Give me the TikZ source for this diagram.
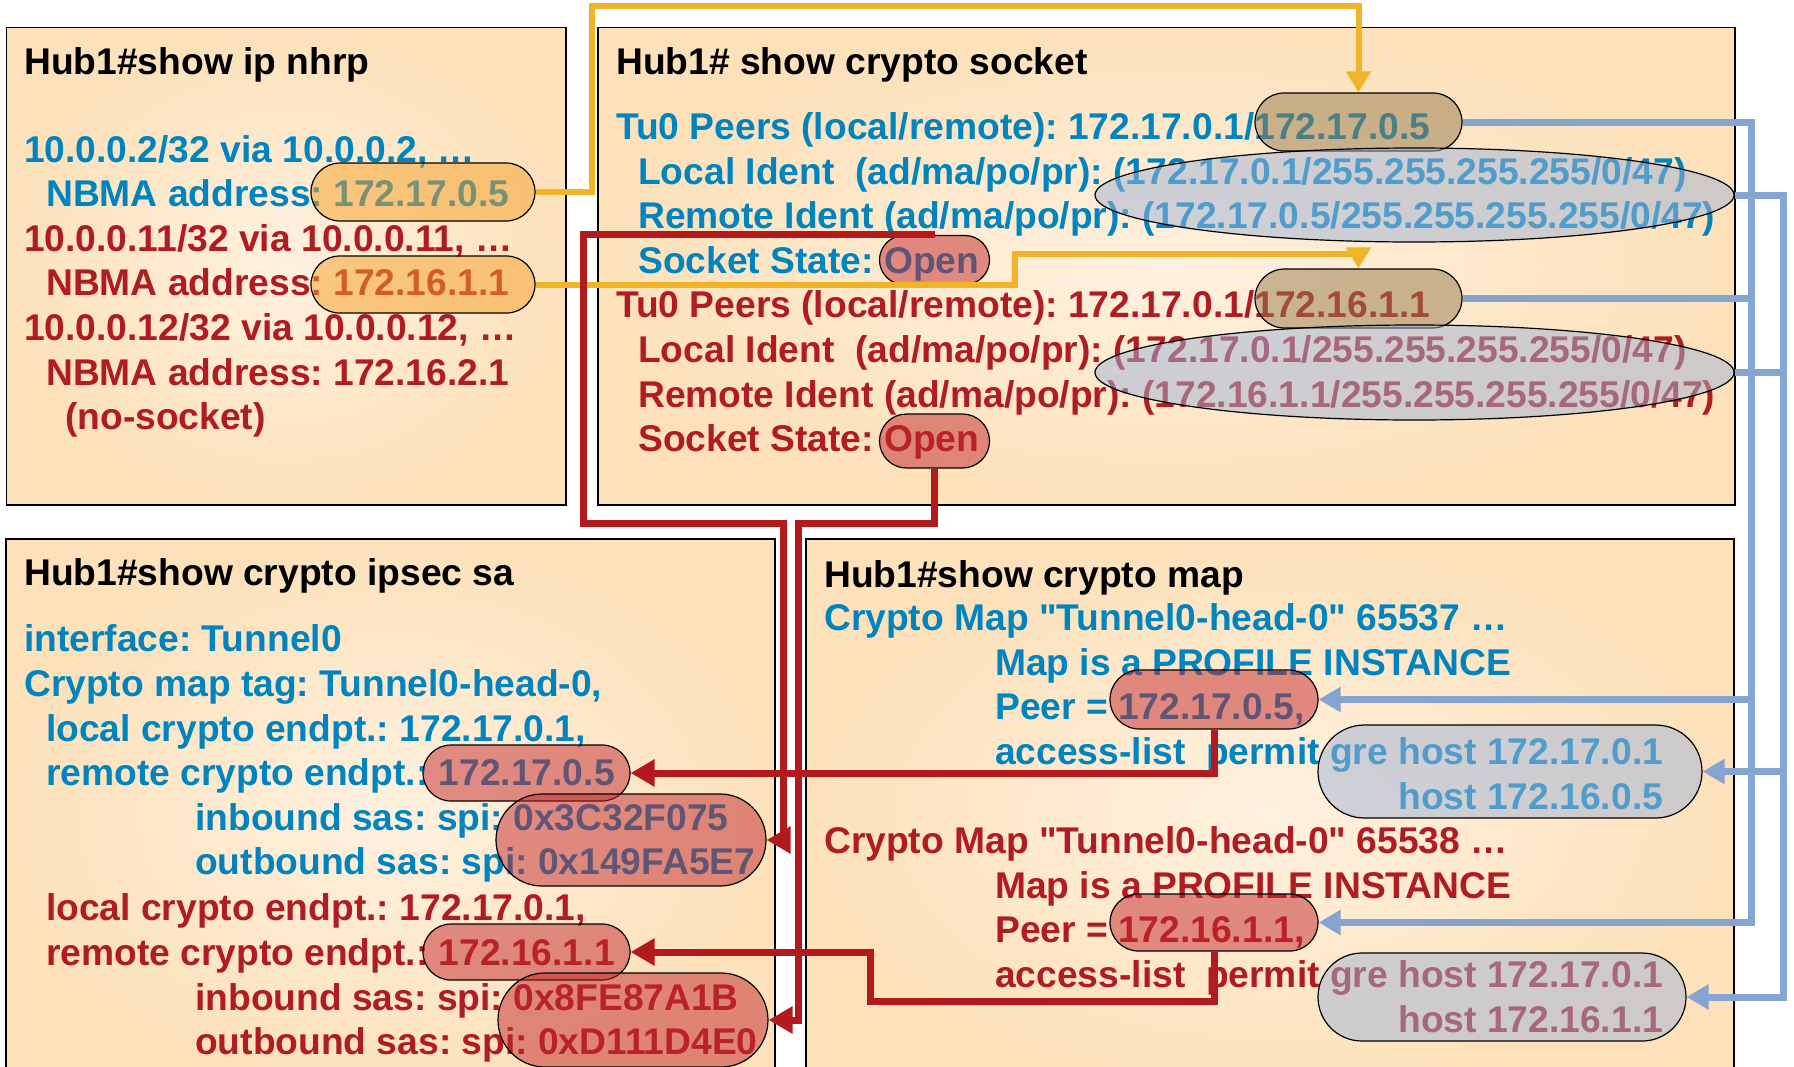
\documentclass[tikz,border=0pt]{standalone}
\usepackage{fontspec}
\setmainfont{Liberation Sans}
\newfontfamily\qfont{Liberation Sans}
\usetikzlibrary{arrows.meta,shapes.misc,shapes.geometric}
\frenchspacing

\definecolor{boxin}{RGB}{255,241,224}
\definecolor{boxout}{RGB}{252,225,186}
\definecolor{cblue}{RGB}{0,132,192}
\definecolor{cred}{RGB}{176,28,34}
\definecolor{lyellow}{RGB}{240,180,40}
\definecolor{lred}{RGB}{178,26,30}
\definecolor{lblue}{RGB}{134,164,210}
\definecolor{hlorange}{RGB}{245,160,40}
\definecolor{hltan}{RGB}{150,122,75}
\definecolor{hlgray}{RGB}{160,180,215}
\definecolor{hlred}{RGB}{195,40,45}
\newcommand{\dq}{{\qfont\symbol{34}}}

\begin{document}
\begin{tikzpicture}[x=1pt,y=-1pt,
    every node/.style={font=\fontsize{37.2}{44}\selectfont\bfseries, inner sep=0pt},
    txt/.style={anchor=base west},
    bl/.style={txt,text=cblue},
    rd/.style={txt,text=cred},
    panel/.style={draw=black,line width=1.5pt,inner color=boxin,outer color=boxout},
    pill/.style={rounded rectangle,draw=black,line width=1.2pt,fill opacity=0.5},
    oval/.style={ellipse,draw=black,line width=1.2pt,fill opacity=0.5},
    yline/.style={lyellow,line width=6pt,-{Triangle[length=21pt,width=24pt]}},
    rline/.style={lred,line width=7pt,-{Triangle[length=24pt,width=26pt]}},
    bline/.style={lblue,line width=7pt,-{Triangle[length=22pt,width=24pt]}}]
    \useasboundingbox (0,0) rectangle (1794,1066);

    % 四个面板
    \draw[panel] (6.5,27.5) rectangle (566,505);
    \draw[panel] (598,27.5) rectangle (1735,505);
    \draw[panel] (6,539) rectangle (775,1090);
    \draw[panel] (806,539) rectangle (1734,1090);

    % show ip nhrp
    \node[txt] (nhrpT) at (24,74.5) {Hub1\#show ip nhrp};
    \node[bl] (nhrp1) at (24,162) {10.0.0.2/32 via 10.0.0.2, …};
    \node[bl] (nhrp2) at (46,206.6) {NBMA address: 172.17.0.5};
    \node[rd] (nhrp3) at (24,251.2) {10.0.0.11/32 via 10.0.0.11, …};
    \node[rd] (nhrp4) at (46,295.8) {NBMA address: 172.16.1.1};
    \node[rd] (nhrp5) at (24,340.4) {10.0.0.12/32 via 10.0.0.12, …};
    \node[rd] (nhrp6) at (46,385) {NBMA address: 172.16.2.1};
    \node[rd] (nhrp7) at (65,429.6) {(no-socket)};

    % show crypto socket
    \node[txt] (sockT) at (616,74.5) {Hub1\# show crypto socket};
    \node[bl] (sock1) at (616,139.5) {Tu0 Peers (local/remote): 172.17.0.1/172.17.0.5};
    \node[bl] (sock2) at (638,184.1) {Local Ident\ \ (ad/ma/po/pr): (172.17.0.1/255.255.255.255/0/47)};
    \node[bl] (sock3) at (638,228.7) {Remote Ident (ad/ma/po/pr): (172.17.0.5/255.255.255.255/0/47)};
    \node[bl] (sock4) at (638,273.3) {Socket State: Open};
    \node[rd] (sock5) at (616,317.9) {Tu0 Peers (local/remote): 172.17.0.1/172.16.1.1};
    \node[rd] (sock6) at (638,362.5) {Local Ident\ \ (ad/ma/po/pr): (172.17.0.1/255.255.255.255/0/47)};
    \node[rd] (sock7) at (638,407.1) {Remote Ident (ad/ma/po/pr): (172.16.1.1/255.255.255.255/0/47)};
    \node[rd] (sock8) at (638,451.7) {Socket State: Open};

    % show crypto ipsec sa
    \node[txt] (sasT) at (24,585.5) {Hub1\#show crypto ipsec sa};
    \node[bl] (sas1) at (24,651.5) {interface: Tunnel0};
    \node[bl] (sas2) at (24,696.5) {Crypto map tag: Tunnel0-head-0,};
    \node[bl] (sas3) at (46,741.5) {local crypto endpt.: 172.17.0.1,};
    \node[bl] (sas4) at (46,785.5) {remote crypto endpt.: 172.17.0.5};
    \node[bl] (sas5) at (195,830.5) {inbound sas: spi: 0x3C32F075};
    \node[bl] (sas6) at (195,874.5) {outbound sas: spi: 0x149FA5E7};
    \node[rd] (sas7) at (46,920.5) {local crypto endpt.: 172.17.0.1,};
    \node[rd] (sas8) at (46,965.5) {remote crypto endpt.: 172.16.1.1};
    \node[rd] (sas9) at (195,1010.5) {inbound sas: spi: 0x8FE87A1B};
    \node[rd] (sas10) at (195,1054.5) {outbound sas: spi: 0xD111D4E0};

    % show crypto map
    \node[txt] (mapT) at (824,587.5) {Hub1\#show crypto map};
    \node[bl] (map1) at (824,630) {Crypto Map \dq Tunnel0-head-0\dq{} 65537 …};
    \node[bl] (map2) at (995,675) {Map is a PROFILE INSTANCE};
    \node[bl] (map3) at (995,719.5) {Peer = 172.17.0.5,};
    \node[bl] (map4) at (995,764) {access-list\ \ permit gre host 172.17.0.1};
    \node[bl,anchor=base east] (map5) at (map4.base east |- 0,809) {host 172.16.0.5};
    \node[rd] (map6) at (824,853.5) {Crypto Map \dq Tunnel0-head-0\dq{} 65538 …};
    \node[rd] (map7) at (995,898) {Map is a PROFILE INSTANCE};
    \node[rd] (map8) at (995,942.5) {Peer = 172.16.1.1,};
    \node[rd] (map9) at (995,987) {access-list\ \ permit gre host 172.17.0.1};
    \node[rd,anchor=base east] (map10) at (map9.base east |- 0,1032) {host 172.16.1.1};

    % 高亮的地址
    \node[pill,fill=hlorange,minimum width=224pt,minimum height=58pt] (nbmaA) at (423,192) {};
    \node[pill,fill=hlorange,minimum width=224pt,minimum height=57pt] (nbmaB) at (423,284.5) {};
    \node[pill,fill=hltan,minimum width=207pt,minimum height=58pt] (peerA) at (1358.5,122) {};
    \node[pill,fill=hltan,minimum width=207pt,minimum height=59pt] (peerB) at (1358.5,298.5) {};
    \node[oval,fill=hlgray,minimum width=639pt,minimum height=94pt] (identA) at (1414.5,195) {};
    \node[oval,fill=hlgray,minimum width=639pt,minimum height=95pt] (identB) at (1414.5,372.5) {};
    \node[pill,fill=hlred,minimum width=110pt,minimum height=49pt] (openA) at (934.5,260) {};
    \node[pill,fill=hlred,minimum width=110pt,minimum height=54pt] (openB) at (934.5,441) {};
    \node[pill,fill=hlred,minimum width=207pt,minimum height=56pt] (remA) at (526.5,773) {};
    \node[pill,fill=hlred,minimum width=270pt,minimum height=92pt] (spiA) at (631,840) {};
    \node[pill,fill=hlred,minimum width=207pt,minimum height=56pt] (remB) at (526.5,952) {};
    \node[pill,fill=hlred,minimum width=270pt,minimum height=94pt] (spiB) at (633,1020) {};
    \node[pill,fill=hlred,minimum width=208pt,minimum height=59pt] (mpeerA) at (1214,699.5) {};
    \node[pill,fill=hlgray,minimum width=384pt,minimum height=93pt] (aclA) at (1510,771.5) {};
    \node[pill,fill=hlred,minimum width=208pt,minimum height=57pt] (mpeerB) at (1214,922.5) {};
    \node[pill,fill=hlgray,minimum width=368pt,minimum height=88pt] (aclB) at (1502,997) {};

    % 黄线: nhrp -> socket
    \draw[yline] (nbmaA.east) -| (592,6) -| (peerA.north);
    \draw[yline] (nbmaB.east) -| (1015,254) -| (peerB.north);

    % 红线
    \draw[rline] (openA.north) -| (583,523) -- (783,523) |- (spiA.east);
    \draw[rline] (openB.south) |- (798,523) |- (spiB.east);
    \draw[rline] (mpeerA.south) |- (remA.east);
    \draw[rline] (mpeerB.south) -- (1214,1001) -| (870,952) -- (remB.east);

    % 蓝线: socket -> crypto map
    \coordinate (busP) at (1751,0);
    \coordinate (busI) at (1783,0);
    \draw[bline] (peerA.east) -| (busP |- mpeerA.east) -- (mpeerA.east);
    \draw[bline] (peerB.east) -| (busP |- mpeerB.east) -- (mpeerB.east);
    \draw[bline] (identA.east) -| (busI |- aclA.east) -- (aclA.east);
    \draw[bline] (identB.east) -| (busI |- aclB.east) -- (aclB.east);
\end{tikzpicture}
\end{document}
